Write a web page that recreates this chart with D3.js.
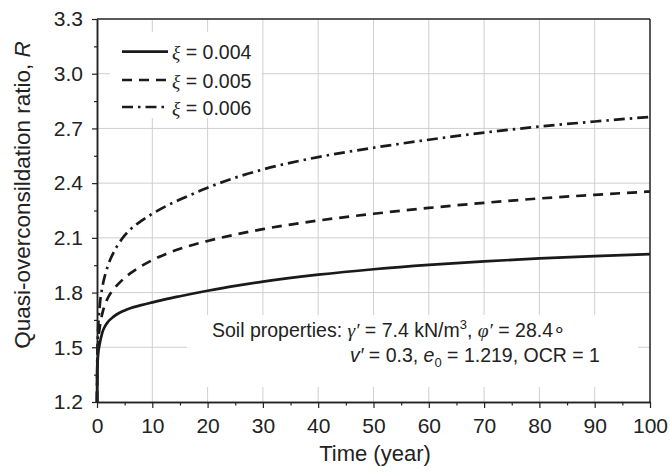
<!DOCTYPE html>
<html>
<head>
<meta charset="UTF-8">
<title>Quasi-overconsolidation ratio</title>
<script src="https://cdn.jsdelivr.net/npm/d3@7"></script>
<style>
  body { margin: 0; background: #fff; }
  svg text { font-family: "Liberation Sans", Arial, sans-serif; fill: #222; }
</style>
</head>
<body>
<svg width="670" height="476"></svg>
<script>
// data
var years = [0, 0.05, 0.2, 0.5, 1, 1.5, 2, 3, 4, 5, 6, 8, 10, 12.5, 15, 20, 25, 30, 40, 50, 60, 70, 80, 90, 100];
var r004 = [1.2, 1.38, 1.46, 1.52, 1.585, 1.618, 1.64, 1.668, 1.688, 1.702, 1.714, 1.731, 1.746, 1.764, 1.78, 1.81, 1.837, 1.86, 1.898, 1.928, 1.952, 1.971, 1.987, 2.0, 2.011];
var r005 = [1.2, 1.4, 1.52, 1.61, 1.69, 1.74, 1.773, 1.818, 1.852, 1.881, 1.905, 1.945, 1.978, 2.012, 2.04, 2.083, 2.118, 2.148, 2.195, 2.232, 2.264, 2.292, 2.316, 2.336, 2.354];
var r006 = [1.2, 1.44, 1.6, 1.73, 1.835, 1.9, 1.95, 2.02, 2.072, 2.113, 2.145, 2.193, 2.232, 2.274, 2.31, 2.375, 2.43, 2.475, 2.543, 2.594, 2.638, 2.677, 2.71, 2.738, 2.763];
var seriesNames = ["0.004", "0.005", "0.006"];
var xTicks = [0, 10, 20, 30, 40, 50, 60, 70, 80, 90, 100];
var yTicks = [1.2, 1.5, 1.8, 2.1, 2.4, 2.7, 3.0, 3.3];

var svg = d3.select("svg");
var marge = {left: 97, right: 650, top: 19, bottom: 402};

var x = d3.scaleLinear().domain([0, 100]).range([marge.left, marge.right]);
var y = d3.scaleLinear().domain([1.2, 3.3]).range([marge.bottom, marge.top]);

//网格
var grid = svg.append("g").attr("stroke", "#cfcfcf").attr("stroke-width", 1);
grid.selectAll(".vg").data(xTicks.slice(1, -1)).enter().append("line")
  .attr("x1", d => x(d)).attr("x2", d => x(d))
  .attr("y1", marge.top).attr("y2", marge.bottom);
grid.selectAll(".hg").data(yTicks.slice(1, -1)).enter().append("line")
  .attr("x1", marge.left).attr("x2", marge.right)
  .attr("y1", d => y(d)).attr("y2", d => y(d));

// white boxes behind legend and note
svg.append("rect").attr("x", 110).attr("y", 32).attr("width", 152).attr("height", 86).attr("fill", "#fff");
svg.append("rect").attr("x", 187).attr("y", 315).attr("width", 451).attr("height", 72).attr("fill", "#fff");

//曲线
var dashes = [null, "10,7", "11,5,2.5,5"];
var allSeries = [r004, r005, r006];
var line = d3.line()
  .x(d => x(d[0]))
  .y(d => y(d[1]))
  .curve(d3.curveMonotoneX);

allSeries.forEach(function(vals, i) {
  svg.append("path")
    .datum(years.map((t, k) => [t, vals[k]]))
    .attr("d", line)
    .attr("fill", "none")
    .attr("stroke", "#1a1a1a")
    .attr("stroke-width", 2.7)
    .attr("stroke-dasharray", dashes[i]);
});

//坐标轴
var fmt = d3.format(".1f");
svg.append("g").attr("transform", "translate(0," + marge.bottom + ")")
  .call(d3.axisBottom(x).tickValues(xTicks).tickSize(6).tickPadding(10).tickSizeOuter(0));
svg.append("g").attr("transform", "translate(0," + marge.bottom + ")")
  .call(d3.axisBottom(x).tickValues(d3.range(5, 100, 10)).tickSize(3.5).tickFormat("").tickSizeOuter(0));
svg.append("g").attr("transform", "translate(" + marge.left + ",0)")
  .call(d3.axisLeft(y).tickValues(yTicks).tickFormat(fmt).tickSize(5).tickPadding(9).tickSizeOuter(0));
svg.append("g").attr("transform", "translate(" + marge.left + ",0)")
  .call(d3.axisLeft(y).tickValues(d3.range(1.35, 3.3, 0.3)).tickSize(3).tickFormat("").tickSizeOuter(0));

svg.selectAll(".domain").attr("stroke", "#222").attr("stroke-width", 1.5);
svg.selectAll(".tick line").attr("stroke", "#222").attr("stroke-width", 1.2);
svg.selectAll(".tick text").attr("font-size", 21).attr("fill", "#222")
  .attr("font-family", "Liberation Sans, Arial, sans-serif");

// top and right frame
svg.append("line").attr("x1", marge.left).attr("x2", marge.right).attr("y1", marge.top).attr("y2", marge.top)
  .attr("stroke", "#222").attr("stroke-width", 1.5);
svg.append("line").attr("x1", marge.right).attr("x2", marge.right).attr("y1", marge.top).attr("y2", marge.bottom)
  .attr("stroke", "#222").attr("stroke-width", 1.5);

//轴标题
svg.append("text").attr("x", 375).attr("y", 461).attr("text-anchor", "middle")
  .attr("font-size", 22).text("Time (year)");
var yl = svg.append("text").attr("transform", "translate(30,195) rotate(-90)")
  .attr("text-anchor", "middle").attr("font-size", 22.5);
yl.append("tspan").text("Quasi-overconsildation ratio, ");
yl.append("tspan").attr("font-style", "italic").text("R");

//图例
var legendY = [51.7, 80, 107];
seriesNames.forEach(function(name, i) {
  svg.append("line").attr("x1", 122).attr("x2", 168)
    .attr("y1", legendY[i]).attr("y2", legendY[i])
    .attr("stroke", "#1a1a1a").attr("stroke-width", 2.7)
    .attr("stroke-dasharray", dashes[i]);
  var t = svg.append("text").attr("x", 172).attr("y", legendY[i] + 7.5).attr("font-size", 19.5);
  t.append("tspan").attr("font-family", "Liberation Serif, serif").attr("font-style", "italic").text("ξ");
  t.append("tspan").text(" = " + name);
});

// soil properties note
var serif = "Liberation Serif, serif";
var n1 = svg.append("text").attr("x", 212).attr("y", 337).attr("font-size", 19.5);
n1.append("tspan").text("Soil properties: ");
n1.append("tspan").attr("font-family", serif).attr("font-style", "italic").text("γ′");
n1.append("tspan").text(" = 7.4 kN/m");
n1.append("tspan").attr("font-size", 13).attr("dy", -8).text("3");
n1.append("tspan").attr("dy", 8).text(", ");
n1.append("tspan").attr("font-family", serif).attr("font-style", "italic").text("φ′");
n1.append("tspan").text(" = 28.4∘");

var n2 = svg.append("text").attr("x", 350).attr("y", 362).attr("font-size", 19.5);
n2.append("tspan").attr("font-style", "italic").text("v′");
n2.append("tspan").text(" = 0.3, ");
n2.append("tspan").attr("font-style", "italic").text("e");
n2.append("tspan").attr("font-size", 13).attr("dy", 5).text("0");
n2.append("tspan").attr("dy", -5).text(" = 1.219, OCR = 1");
</script>
</body>
</html>
